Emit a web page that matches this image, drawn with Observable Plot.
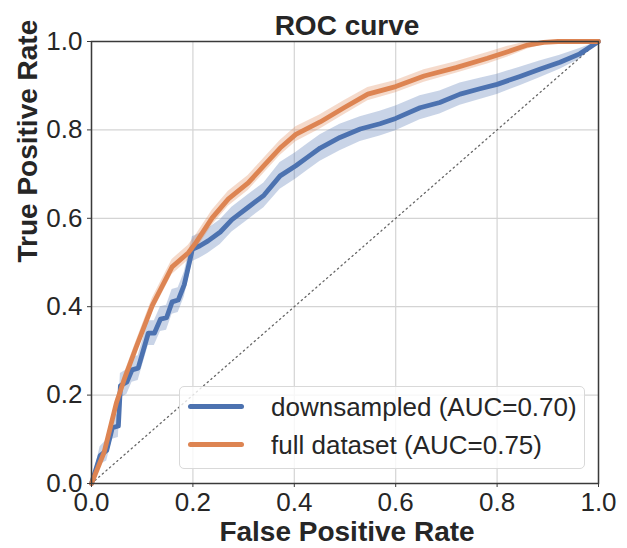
<!DOCTYPE html>
<html>
<head>
<meta charset="utf-8">
<script src="https://cdn.jsdelivr.net/npm/d3@7"></script>
<script src="https://cdn.jsdelivr.net/npm/@observablehq/plot@0.6"></script>
<style>
  html, body { margin: 0; padding: 0; background: #fff; }
  #wrap { position: relative; width: 627px; height: 548px; font-family: "Liberation Sans", Arial, sans-serif; }
  #legend {
    position: absolute; left: 179px; top: 386px; width: 406px; height: 83px;
    box-sizing: border-box; border: 1px solid #d9d9d9; border-radius: 5px;
    background: rgba(255,255,255,0.8);
  }
  .entry { position: absolute; left: 0; height: 30px; width: 100%; }
  .swatch { position: absolute; left: 8px; width: 56px; height: 5px; border-radius: 3px; top: 12px; }
  .label { position: absolute; left: 91px; top: 0; font-size: 26px; line-height: 30px; color: #262626; white-space: nowrap; }
</style>
</head>
<body>
<div id="wrap"></div>
<script>
const title = "ROC curve";
const xLabel = "False Positive Rate";
const yLabel = "True Positive Rate";
const ticks = [0, 0.2, 0.4, 0.6, 0.8, 1.0];
const seriesNames = ["downsampled (AUC=0.70)", "full dataset (AUC=0.75)"];
const seriesColors = ["#4c72b0", "#dd8452"];

// downsampled
const fprDown = [0, 0.017, 0.03, 0.041, 0.053, 0.057, 0.07, 0.08, 0.092, 0.112, 0.124, 0.136, 0.148, 0.159, 0.171, 0.183, 0.199, 0.214, 0.23, 0.254, 0.277, 0.309, 0.34, 0.372, 0.403, 0.427, 0.451, 0.49, 0.53, 0.569, 0.6, 0.648, 0.687, 0.727, 0.766, 0.8, 0.845, 0.884, 0.924, 0.963, 1];
const tprDown = [0, 0.063, 0.075, 0.126, 0.13, 0.221, 0.23, 0.257, 0.261, 0.34, 0.34, 0.372, 0.375, 0.411, 0.415, 0.45, 0.53, 0.538, 0.549, 0.569, 0.597, 0.625, 0.652, 0.696, 0.719, 0.739, 0.759, 0.783, 0.802, 0.814, 0.826, 0.85, 0.862, 0.881, 0.893, 0.903, 0.921, 0.937, 0.953, 0.972, 1];
const bandDown = [0, 0.02, 0.024, 0.026, 0.026, 0.028, 0.028, 0.028, 0.028, 0.028, 0.028, 0.028, 0.028, 0.028, 0.028, 0.028, 0.028, 0.028, 0.028, 0.028, 0.028, 0.028, 0.028, 0.03, 0.03, 0.03, 0.03, 0.03, 0.028, 0.028, 0.028, 0.027, 0.026, 0.025, 0.024, 0.023, 0.021, 0.019, 0.016, 0.012, 0];

// full dataset
const fprFull = [0, 0.025, 0.049, 0.065, 0.088, 0.12, 0.159, 0.191, 0.206, 0.238, 0.27, 0.309, 0.34, 0.372, 0.403, 0.451, 0.498, 0.545, 0.6, 0.656, 0.719, 0.781, 0.821, 0.86, 0.892, 0.92, 1];
const tprFull = [0, 0.071, 0.182, 0.237, 0.308, 0.403, 0.49, 0.522, 0.545, 0.601, 0.644, 0.68, 0.719, 0.759, 0.79, 0.818, 0.85, 0.881, 0.898, 0.922, 0.941, 0.962, 0.977, 0.992, 0.998, 1, 1];
const bandFull = [0, 0.008, 0.011, 0.013, 0.014, 0.016, 0.017, 0.017, 0.017, 0.017, 0.017, 0.017, 0.017, 0.017, 0.017, 0.016, 0.016, 0.015, 0.014, 0.014, 0.013, 0.013, 0.012, 0.009, 0.005, 0.002, 0];

const down = fprDown.map((x, i) => ({x, y: tprDown[i], lo: tprDown[i] - bandDown[i], hi: Math.min(1, tprDown[i] + bandDown[i])}));
const full = fprFull.map((x, i) => ({x, y: tprFull[i], lo: tprFull[i] - bandFull[i], hi: Math.min(1, tprFull[i] + bandFull[i])}));
const diag = [{x: 0, y: 0}, {x: 1, y: 1}];

const fmt = d3.format(".1f");
const chart = Plot.plot({
  width: 627, height: 548,
  marginLeft: 91, marginRight: 29, marginTop: 41, marginBottom: 65,
  style: {fontFamily: "'Liberation Sans', Arial, sans-serif", fontSize: "26px", color: "#262626", background: "#fff"},
  x: {domain: [0, 1]},
  y: {domain: [0, 1]},
  marks: [
    Plot.gridX(ticks, {stroke: "#d4d4d4", strokeOpacity: 1, strokeWidth: 1.2}),
    Plot.gridY(ticks, {stroke: "#d4d4d4", strokeOpacity: 1, strokeWidth: 1.2}),
    Plot.line(diag, {x: "x", y: "y", stroke: "#666", strokeWidth: 1.3, strokeDasharray: "1.3,3.5"}),
    Plot.areaY(down, {x: "x", y1: "lo", y2: "hi", fill: seriesColors[0], fillOpacity: 0.3}),
    Plot.areaY(full, {x: "x", y1: "lo", y2: "hi", fill: seriesColors[1], fillOpacity: 0.3}),
    Plot.line(down, {x: "x", y: "y", stroke: seriesColors[0], strokeWidth: 4.8}),
    Plot.line(full, {x: "x", y: "y", stroke: seriesColors[1], strokeWidth: 4.8}),
    Plot.frame({stroke: "#3a3a3a", strokeWidth: 1.5}),
    Plot.axisX({ticks, tickFormat: fmt, tickSize: 4, tickPadding: 5, label: null, stroke: "#3a3a3a", fontSize: 26}),
    Plot.axisY({ticks, tickFormat: fmt, tickSize: 4, tickPadding: 5, label: null, stroke: "#3a3a3a", fontSize: 26}),
    Plot.text([title], {frameAnchor: "top", lineAnchor: "bottom", dy: -7, dx: 2, fontSize: 28, fontWeight: "bold", fill: "#262626"}),
    Plot.text([xLabel], {frameAnchor: "bottom", lineAnchor: "bottom", dy: 57, dx: 2, fontSize: 28, fontWeight: "bold", fill: "#262626"}),
    Plot.text([yLabel], {frameAnchor: "left", lineAnchor: "bottom", rotate: -90, dx: -55, fontSize: 28, fontWeight: "bold", fill: "#262626"})
  ]
});

const wrap = document.getElementById("wrap");
wrap.appendChild(chart);
const legend = document.createElement("div");
legend.id = "legend";
seriesNames.forEach((name, i) => {
  const e = document.createElement("div");
  e.className = "entry";
  e.style.top = (5 + i * 38) + "px";
  const s = document.createElement("div");
  s.className = "swatch";
  s.style.background = seriesColors[i];
  const l = document.createElement("div");
  l.className = "label";
  l.textContent = name;
  e.appendChild(s); e.appendChild(l);
  legend.appendChild(e);
});
wrap.appendChild(legend);
</script>
</body>
</html>
